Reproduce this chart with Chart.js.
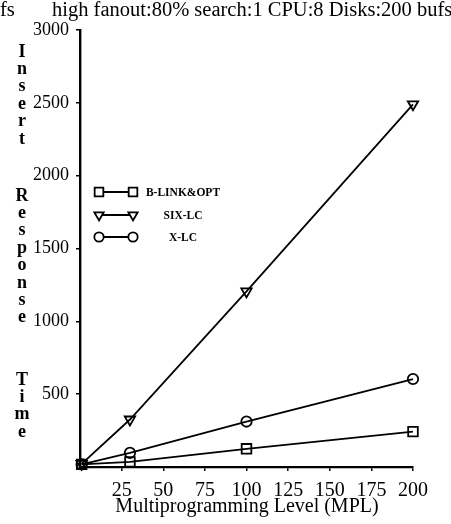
<!DOCTYPE html>
<html>
<head>
<meta charset="utf-8">
<script src="https://cdn.jsdelivr.net/npm/chart.js@4.4.1/dist/chart.umd.min.js"></script>
<style>
html,body{margin:0;padding:0;background:#fff;}
#wrap{width:451px;height:524px;position:relative;}
</style>
</head>
<body>
<div id="wrap"><canvas id="c" width="451" height="524"></canvas></div>
<script>
const mpl = [1, 30, 100, 200];
const seriesNames = ['B-LINK&OPT', 'SIX-LC', 'X-LC'];
const blinkOpt = [18, 35, 125, 243];
const sixLc = [22, 326, 1205, 2490];
const xLc = [18, 97, 312, 604];
const xTicks = [25, 50, 75, 100, 125, 150, 175, 200];
const yTicks = [500, 1000, 1500, 2000, 2500, 3000];
const titleText = 'high fanout:80% search:1 CPU:8 Disks:200 bufs';
const yTitleWords = ['Insert', 'Response', 'Time'];
const xTitleText = 'Multiprogramming Level (MPL)';

const serif = '"Liberation Serif", "DejaVu Serif", serif';

function radiusFor(style) {
  return style === 'triangle' ? 6 : (style === 'rect' ? 6.8 : 5.2);
}

function mk(label, vals, style, rot) {
  return {
    label: label,
    data: mpl.map((x, i) => ({x: x, y: vals[i]})),
    borderColor: '#000',
    backgroundColor: '#fff',
    borderWidth: 1.8,
    pointStyle: style,
    rotation: rot,
    pointRadius: radiusFor(style),
    pointBorderWidth: 1.8,
    pointBorderColor: '#000',
    pointBackgroundColor: 'rgba(255,255,255,0)',
    tension: 0,
    clip: false
  };
}

const decor = {
  id: 'decor',
  afterDraw(chart) {
    const ctx = chart.ctx;
    ctx.save();
    ctx.fillStyle = '#000';
    // title
    ctx.font = '20.5px ' + serif;
    ctx.textBaseline = 'middle';
    ctx.textAlign = 'left';
    ctx.fillText(titleText, 52, 11);
    ctx.fillText('fs', 0, 11);
    // y title, stacked letters
    ctx.font = 'bold 18px ' + serif;
    ctx.textAlign = 'center';
    const starts = [52, 196, 380];
    const step = 17.4;
    yTitleWords.forEach((w, wi) => {
      [...w].forEach((ch, i) => {
        ctx.fillText(ch, 22, starts[wi] + i * step);
      });
    });
    // x title
    ctx.font = '20px ' + serif;
    ctx.textAlign = 'center';
    ctx.fillText(xTitleText, 247, 507);
    // legend
    const rows = [192, 215, 237];
    chart.data.datasets.forEach((ds, i) => {
      const y = rows[i];
      ctx.strokeStyle = '#000';
      ctx.lineWidth = 1.8;
      ctx.beginPath();
      ctx.moveTo(99, y);
      ctx.lineTo(133, y);
      ctx.stroke();
      const opts = {pointStyle: ds.pointStyle, rotation: ds.rotation, radius: radiusFor(ds.pointStyle) * 0.9, borderWidth: 1.8};
      ctx.fillStyle = '#fff';
      Chart.helpers.drawPoint(ctx, opts, 99, y);
      Chart.helpers.drawPoint(ctx, opts, 133, y);
      ctx.fillStyle = '#000';
      ctx.font = 'bold 11.5px ' + serif;
      ctx.textAlign = 'center';
      ctx.fillText(ds.label, 183, y + 1);
    });
    ctx.restore();
  }
};

new Chart(document.getElementById('c'), {
  type: 'line',
  data: {
    datasets: [
      mk(seriesNames[0], blinkOpt, 'rect', 0),
      mk(seriesNames[1], sixLc, 'triangle', 180),
      mk(seriesNames[2], xLc, 'circle', 0)
    ]
  },
  options: {
    responsive: false,
    animation: false,
    layout: {padding: {top: 30, right: 38, left: 0, bottom: 0}},
    plugins: {legend: {display: false}, tooltip: {enabled: false}},
    scales: {
      x: {
        type: 'linear', min: 0, max: 200,
        afterFit(s) { s.height = 57; },
        afterBuildTicks(s) { s.ticks = xTicks.map(v => ({value: v})); },
        border: {display: true, color: '#000', width: 2.2},
        grid: {display: true, drawOnChartArea: false, drawTicks: true, tickLength: 4, color: '#000', lineWidth: 1.5},
        ticks: {color: '#000', font: {family: serif, size: 20}, padding: 8, maxRotation: 0, autoSkip: false,
          callback: v => String(v)}
      },
      y: {
        type: 'linear', min: 0, max: 3000,
        afterFit(s) { s.width = 80; },
        afterBuildTicks(s) { s.ticks = yTicks.map(v => ({value: v})); },
        border: {display: true, color: '#000', width: 2.4},
        grid: {display: true, drawOnChartArea: false, drawTicks: true, tickLength: 4, color: '#000', lineWidth: 1.5},
        ticks: {color: '#000', font: {family: serif, size: 18}, padding: 7,
          callback: v => String(v)}
      }
    }
  },
  plugins: [decor]
});
</script>
</body>
</html>
